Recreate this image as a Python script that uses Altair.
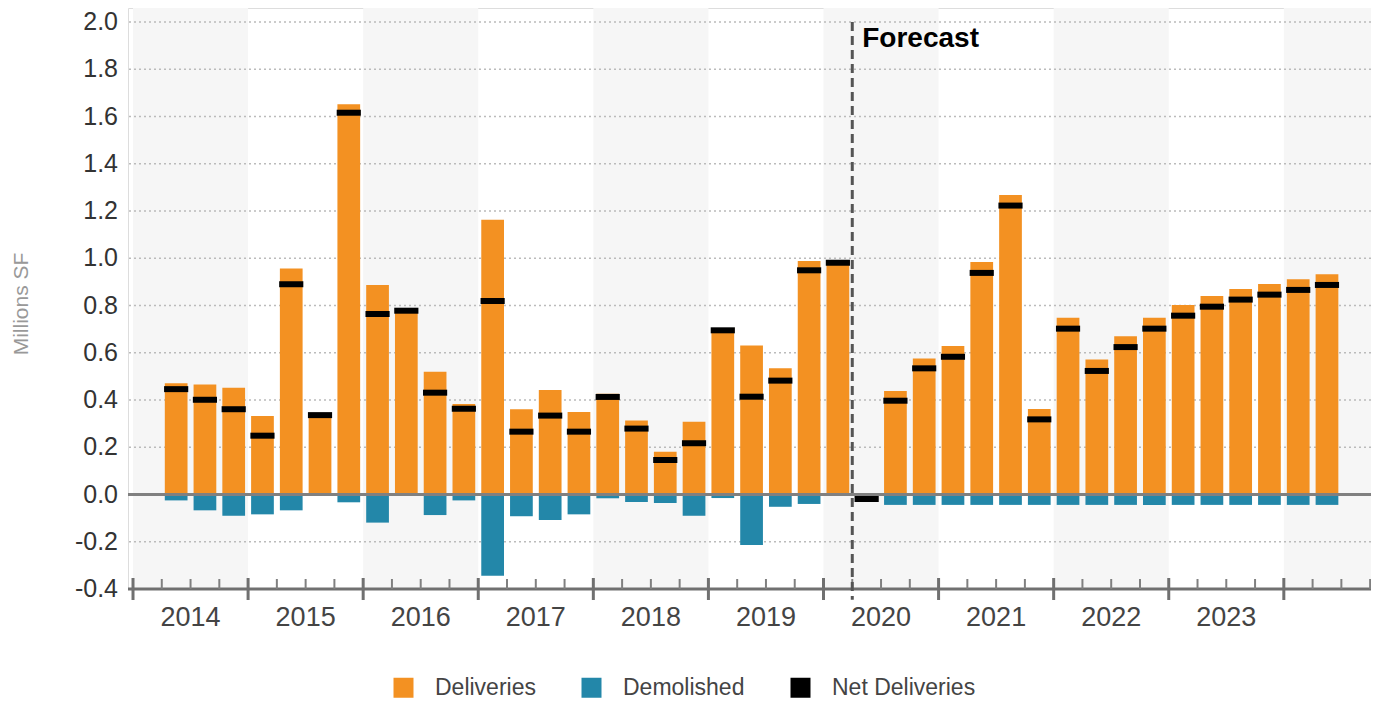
import altair as alt
import pandas as pd

# ---------------- data ----------------
years = [2014, 2015, 2016, 2017, 2018, 2019, 2020, 2021, 2022, 2023]
first_slot = 1          # quarterly slots; slot 0 on the axis is empty
forecast_slot = 25      # forecast starts at this slot

deliveries = [0.471, 0.466, 0.452, 0.332, 0.957, 0.345, 1.652, 0.887, 0.785, 0.520,
              0.383, 1.163, 0.361, 0.442, 0.349, 0.426, 0.313, 0.181, 0.308, 0.705,
              0.631, 0.534, 0.988, 0.988, 0.000, 0.438, 0.576, 0.629, 0.984, 1.268,
              0.362, 0.748, 0.571, 0.670, 0.748, 0.802, 0.840, 0.870, 0.891, 0.911,
              0.932]
demolished = [-0.025, -0.067, -0.090, -0.084, -0.067, -0.005, -0.033, -0.119, -0.003, -0.087,
              -0.025, -0.344, -0.092, -0.108, -0.084, -0.016, -0.032, -0.036, -0.090, -0.015,
              -0.214, -0.052, -0.040, -0.003, -0.020, -0.044, -0.044, -0.044, -0.044, -0.044,
              -0.044, -0.044, -0.044, -0.044, -0.044, -0.044, -0.044, -0.044, -0.044, -0.044,
              -0.044]
net_deliveries = [0.446, 0.401, 0.361, 0.249, 0.890, 0.336, 1.616, 0.764, 0.778, 0.431,
                  0.363, 0.819, 0.266, 0.334, 0.266, 0.413, 0.279, 0.146, 0.217, 0.695,
                  0.414, 0.482, 0.949, 0.981, -0.019, 0.397, 0.534, 0.583, 0.938, 1.223,
                  0.318, 0.702, 0.523, 0.624, 0.702, 0.757, 0.795, 0.825, 0.846, 0.866,
                  0.887]
y_ticks = [-0.4, -0.2, 0.0, 0.2, 0.4, 0.6, 0.8, 1.0, 1.2, 1.4, 1.6, 1.8, 2.0]
y_tick_labels = ["-0.4", "-0.2", "0.0", "0.2", "0.4", "0.6", "0.8", "1.0", "1.2", "1.4",
                 "1.6", "1.8", "2.0"]
y_title = "Millions SF"
series = ["Deliveries", "Demolished", "Net Deliveries"]
colors = ["#F39122", "#2387A9", "#000000"]

# ---------------- tables ----------------
n = len(deliveries)
slots = list(range(first_slot, first_slot + n))
n_axis_slots = (len(years) + 1) * 4 - 1   # 43 slots on the axis

X_MIN, X_MAX = -0.174, 43.03
Y_MIN, Y_MAX = -0.4, 2.0593
xs = alt.Scale(domain=[X_MIN, X_MAX], nice=False, zero=False)
ys = alt.Scale(domain=[Y_MIN, Y_MAX], nice=False, zero=False)

bar_rows = []
for s, d, m in zip(slots, deliveries, demolished):
    bar_rows.append({"x0": s + 0.105, "x1": s + 0.895, "type": "Deliveries", "value": d})
    bar_rows.append({"x0": s + 0.105, "x1": s + 0.895, "type": "Demolished", "value": m})
bars_df = pd.DataFrame(bar_rows)

net_df = pd.DataFrame({"x0": [s + 0.08 for s in slots], "x1": [s + 0.92 for s in slots],
                       "net": net_deliveries})

band_starts = [i * 4 for i in range(0, len(years) + 1, 2)]
bands_df = pd.DataFrame({"b0": band_starts,
                         "b1": [min(b + 4, X_MAX) for b in band_starts]})

year_df = pd.DataFrame({"year": [str(y) for y in years],
                        "xc": [i * 4 + 2 for i in range(len(years))]})

major_df = pd.DataFrame({"t": [i * 4 for i in range(len(years) + 1)]})
minor_df = pd.DataFrame({"t": [i for i in range(1, n_axis_slots + 1) if i % 4 != 0]})
grid_df = pd.DataFrame({"v": [v for v in y_ticks if v not in (0.0, -0.4)]})
ylab_df = pd.DataFrame({"v": y_ticks, "label": y_tick_labels})
one_df = pd.DataFrame({"k": [0]})

FONT = "Liberation Sans"

# ---------------- layers ----------------
shade = alt.Chart(bands_df).mark_rect(color="#F6F6F6").encode(
    x=alt.X("b0:Q", scale=xs, axis=None),
    x2="b1:Q",
    y=alt.Y(datum=Y_MAX, scale=ys, axis=None),
    y2=alt.Y2(datum=Y_MIN),
)

grid = alt.Chart(grid_df).mark_rule(color="#BBBBBB", strokeWidth=1.5, strokeDash=[2, 3]).encode(
    y=alt.Y("v:Q", scale=ys, axis=None)
)

bars = alt.Chart(bars_df).mark_bar().encode(
    x=alt.X("x0:Q", scale=xs, axis=None),
    x2="x1:Q",
    y=alt.Y("value:Q", scale=ys, stack=None, axis=None),
    y2=alt.Y2(datum=0),
    color=alt.Color("type:N",
                    scale=alt.Scale(domain=series, range=colors),
                    legend=alt.Legend(orient="none", legendX=264, legendY=668,
                                      direction="horizontal", title=None,
                                      symbolType="square", symbolSize=400,
                                      symbolStrokeWidth=0, labelFontSize=23,
                                      labelColor="#444444", labelFont=FONT,
                                      labelOffset=20, columnPadding=44)),
)

zero = alt.Chart(one_df).mark_rule(color="#808080", strokeWidth=3).encode(
    y=alt.Y(datum=0, scale=ys, axis=None)
)

net = alt.Chart(net_df).mark_rule(color="#000000", strokeWidth=6).encode(
    x=alt.X("x0:Q", scale=xs, axis=None),
    x2="x1:Q",
    y=alt.Y("net:Q", scale=ys, axis=None),
)

axis_line = alt.Chart(one_df).mark_rule(color="#707070", strokeWidth=3).encode(
    y=alt.Y(datum=Y_MIN, scale=ys, axis=None)
)

major = alt.Chart(major_df).mark_rule(color="#707070", strokeWidth=3).encode(
    x=alt.X("t:Q", scale=xs, axis=None),
    y=alt.Y(datum=Y_MIN - 0.0466, scale=ys, axis=None),
    y2=alt.Y2(datum=Y_MIN + 0.0466),
)

minor = alt.Chart(minor_df).mark_rule(color="#808080", strokeWidth=2).encode(
    x=alt.X("t:Q", scale=xs, axis=None),
    y=alt.Y(datum=Y_MIN, scale=ys, axis=None),
    y2=alt.Y2(datum=Y_MIN + 0.0423),
)

year_text = alt.Chart(year_df).mark_text(fontSize=27, color="#444444", font=FONT,
                                         baseline="middle", dy=29).encode(
    x=alt.X("xc:Q", scale=xs, axis=None),
    y=alt.Y(datum=Y_MIN, scale=ys, axis=None),
    text="year:N",
)

ylabels = alt.Chart(ylab_df).mark_text(fontSize=25, color="#333333", font=FONT,
                                       align="right", baseline="middle", dx=-10).encode(
    x=alt.X(datum=X_MIN, scale=xs, axis=None),
    y=alt.Y("v:Q", scale=ys, axis=None),
    text="label:N",
)

ytitle = alt.Chart(one_df).mark_text(text=y_title, fontSize=21, color="#999999", font=FONT,
                                     angle=270, align="center", baseline="middle").encode(
    x=alt.value(-106),
    y=alt.value(296),
)

fc_line = alt.Chart(one_df).mark_rule(color="#555555", strokeWidth=3,
                                      strokeDash=[9, 5]).encode(
    x=alt.X(datum=forecast_slot, scale=xs, axis=None),
    y=alt.Y(datum=2.0, scale=ys, axis=None),
    y2=alt.Y2(datum=Y_MIN - 0.045),
)

fc_text = alt.Chart(one_df).mark_text(text="Forecast", fontSize=28, fontWeight="bold",
                                      color="#000000", font=FONT, align="left",
                                      baseline="alphabetic", dx=10, dy=25).encode(
    x=alt.X(datum=forecast_slot, scale=xs, axis=None),
    y=alt.Y(datum=2.0, scale=ys, axis=None),
)

chart = alt.layer(
    shade, grid, bars, zero, net, axis_line, major, minor, year_text, ylabels, ytitle,
    fc_line, fc_text
).properties(
    width=1243, height=581,
    autosize=alt.AutoSizeParams(type="none"),
    padding={"left": 120, "top": 0, "right": 0, "bottom": 110},
).configure_view(stroke=None).configure(font=FONT, background="white")

chart.save("out.html", embed_options={"renderer": "svg", "actions": False})
